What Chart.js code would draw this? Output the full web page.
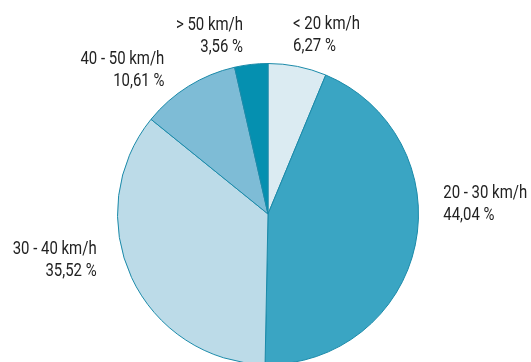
<!DOCTYPE html>
<html>
<head>
<meta charset="utf-8">
<script src="https://cdn.jsdelivr.net/npm/chart.js@4"></script>
<style>
  html, body { margin: 0; padding: 0; background: #fff; overflow: hidden; }
  #wrap { width: 531px; height: 428px; position: relative; }
</style>
</head>
<body>
<div id="wrap"><canvas id="speedPie"></canvas></div>
<script>
// speed classes, clockwise from 12 o'clock
const categories = ['< 20 km/h', '20 - 30 km/h', '30 - 40 km/h', '40 - 50 km/h', '> 50 km/h'];
const shares = [6.27, 44.04, 35.52, 10.61, 3.56];
const shareLabels = ['6,27 %', '44,04 %', '35,52 %', '10,61 %', '3,56 %'];
const sliceColors = ['#dbebf2', '#3aa5c3', '#bcdbe8', '#7ebcd6', '#0590b0'];

// small hand nudges for label placement (px)
const labelNudge = [[-10, -3], [0, -46], [-9, -29], [-9, 9], [-5, 0]];
const condense = 0.83; // the source uses a condensed face

const outerLabels = {
    id: 'outerLabels',
    afterDraw(chart) {
        const ctx = chart.ctx;
        const meta = chart.getDatasetMeta(0);
        ctx.save();
        ctx.font = '18px Roboto, "DejaVu Sans", sans-serif';
        ctx.fillStyle = '#222';
        ctx.textBaseline = 'middle';
        meta.data.forEach((arc, i) => {
            const mid = (arc.startAngle + arc.endAngle) / 2;
            const r = arc.outerRadius * 1.19;
            const x = arc.x + Math.cos(mid) * r + labelNudge[i][0];
            const y = arc.y + Math.sin(mid) * r + labelNudge[i][1];
            ctx.save();
            ctx.translate(x, y);
            ctx.scale(condense, 1);
            ctx.textAlign = Math.cos(mid) >= 0 ? 'left' : 'right';
            ctx.fillText(categories[i], 0, -11);
            ctx.fillText(shareLabels[i], 0, 11);
            ctx.restore();
        });
        ctx.restore();
    }
};

new Chart(document.getElementById('speedPie').getContext('2d'), {
    type: 'pie',
    data: {
        labels: categories,
        datasets: [{
            data: shares,
            backgroundColor: sliceColors,
            borderColor: '#1b8aa9',
            borderWidth: 1
        }]
    },
    options: {
        responsive: true,
        maintainAspectRatio: false,
        animation: false,
        layout: { padding: { left: 117, right: 112, top: 63, bottom: 63 } },
        plugins: { legend: { display: false }, tooltip: { enabled: false } }
    },
    plugins: [outerLabels]
});
</script>
</body>
</html>
